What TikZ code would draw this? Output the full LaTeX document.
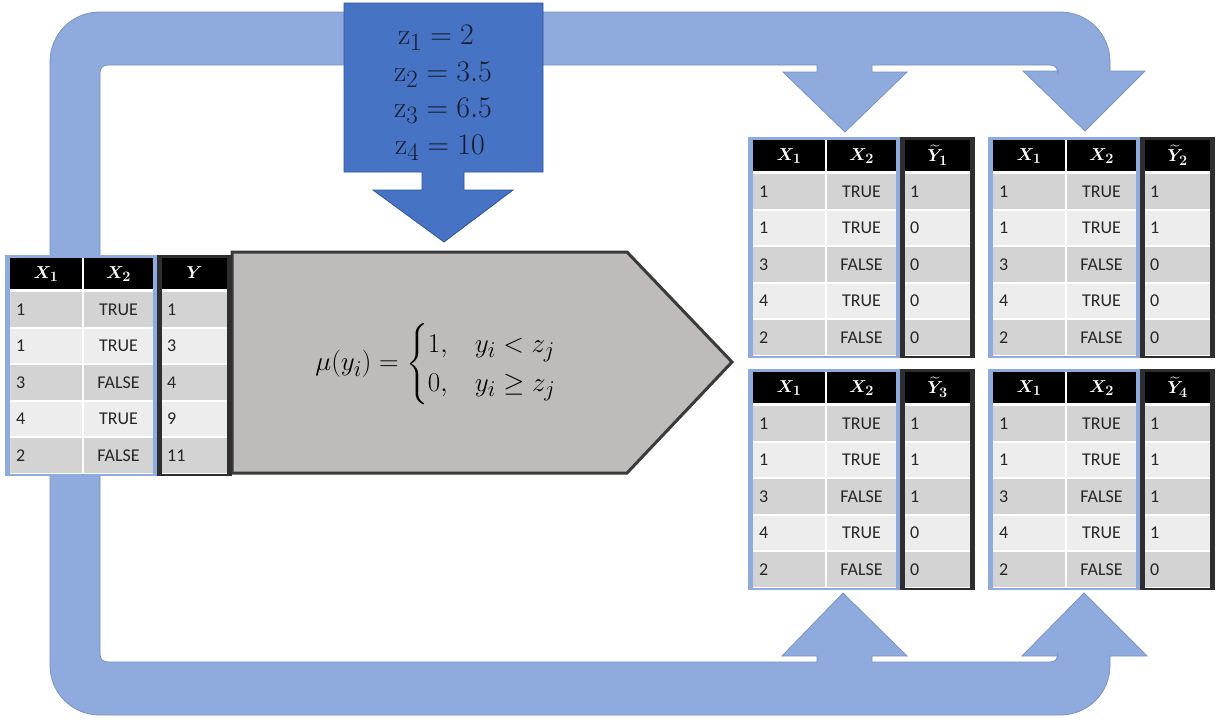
\documentclass[tikz,border=0pt]{standalone}
\usepackage{amsmath,bm}
\usepackage{fontspec}
\newfontfamily\cellfont{Carlito}
\definecolor{band}{HTML}{8FAADC}
\definecolor{bandline}{HTML}{7892C6}
\definecolor{zbox}{HTML}{4773C5}
\definecolor{zboxline}{HTML}{2F5597}
\definecolor{ztext}{HTML}{141B2E}
\definecolor{arrowgray}{HTML}{BFBBBB}
\definecolor{arrowline}{HTML}{3A3A3A}
\definecolor{darkframe}{HTML}{2E2E2E}
\definecolor{rowdark}{HTML}{D3D3D3}
\definecolor{rowlight}{HTML}{EDEDED}
\definecolor{tframe}{HTML}{8EABDD}
\tikzset{
  hdr/.style={text=white,inner sep=0pt,font=\fontsize{19}{22}\selectfont},
  cell/.style={inner sep=0pt,text=black!85,font=\cellfont\fontsize{18}{21}\selectfont,text height=12pt,text depth=0pt},
  zline/.style={inner sep=0pt,text=ztext,font=\fontsize{24.88}{30}\selectfont},
}
\newcommand\zeq[1]{\scalebox{1.2}{$#1$}}
\newcommand\datatable[9]{%
 \begin{scope}[shift={(#2,#3)}]
  \fill[tframe] (0,0) rectangle (152,221);
  \fill[darkframe] (152,0) rectangle (227,221);
  \fill[white] (5,3) rectangle (148,218.5);
  \fill[white] (157,3) rectangle (222,218.5);
  \fill[black] (5,3) rectangle (77,34);
  \fill[black] (79,3) rectangle (148,34);
  \fill[black] (157,3) rectangle (222,34);
  \foreach \t/\c in {37/rowdark,73.5/rowlight,110/rowdark,146.5/rowlight,183/rowdark}{
    \fill[\c] (5,\t) rectangle (77,\t+34.5);
    \fill[\c] (79,\t) rectangle (148,\t+34.5);
    \fill[\c] (157,\t) rectangle (222,\t+34.5);
  }
  \node[hdr] (#1-h1) at (41,19) {$\bm{X_1}$};
  \node[hdr] (#1-h2) at (113.5,19) {$\bm{X_2}$};
  \node[hdr] (#1-hy) at (189.5,18) {#4};
  \foreach \k/\a/\b/\c in {1/1/TRUE/#5,2/1/TRUE/#6,3/3/FALSE/#7,4/4/TRUE/#8,5/2/FALSE/#9}{
    \pgfmathsetmacro\yc{37+36.5*(\k-1)+17.25}
    \node[cell,anchor=west] (#1-a\k) at (11,\yc) {\a};
    \node[cell] (#1-b\k) at (113.5,\yc) {\b};
    \node[cell,anchor=west] (#1-c\k) at (162,\yc) {\c};
  }
 \end{scope}}
\begin{document}
\begin{tikzpicture}[x=1pt,y=-1pt]
\useasboundingbox (0,0) rectangle (1221,720);
\fill[white] (0,0) rectangle (1221,720);
% feedback loop band with four arrow heads
\filldraw[fill=band,draw=bandline,line width=0.8pt]
  (1058,71) -- (1023,71) -- (1085,131) -- (1145,71) -- (1110,71) -- (1110,62)
  .. controls (1110,34) and (1088,12) .. (1060,12) -- (100,12)
  .. controls (72,12) and (50,34) .. (50,62) -- (50,665)
  .. controls (50,693) and (72,715) .. (100,715) -- (1060,715)
  .. controls (1088,715) and (1110,693) .. (1110,665) -- (1110,656)
  -- (1147,656) -- (1084,593) -- (1022,656) -- (1058,656) -- (1058,652)
  .. controls (1058,658) and (1056,662) .. (1050,662)
  -- (872,662) -- (872,656) -- (907,656) -- (843,593) -- (782,656) -- (817,656) -- (817,662)
  -- (108,662) .. controls (103,662) and (100,659) .. (100,654)
  -- (100,73) .. controls (100,68) and (103,65) .. (108,65)
  -- (817,65) -- (817,72) -- (783,72) -- (845,132) -- (907,72) -- (872,72) -- (872,65)
  -- (1050,65) .. controls (1056,65) and (1058,69) .. (1058,75) -- cycle;
% threshold box with down arrow
\filldraw[fill=zbox,draw=zboxline,line width=0.8pt]
  (344,3) -- (543,3) -- (543,172) -- (464,172) -- (464,190) -- (513,190) -- (444,242)
  -- (373,190) -- (422,190) -- (422,172) -- (344,172) -- cycle;
\node[zline] (z1) at (436,38) {\zeq{\mathrm{z}_1 = 2}};
\node[zline] (z2) at (443,75) {\zeq{\mathrm{z}_2 = 3.5}};
\node[zline] (z3) at (443,111) {\zeq{\mathrm{z}_3 = 6.5}};
\node[zline] (z4) at (440,148) {\zeq{\mathrm{z}_4 = 10}};
% transformation arrow
\filldraw[fill=arrowgray,draw=arrowline,line width=3pt]
  (232,252) -- (627,252) -- (732,362) -- (627,473) -- (232,473) -- cycle;
\node[inner sep=0pt,font=\fontsize{24.88}{30}\selectfont] (mu) at (436,364)
  {\scalebox{1.09}{$\mu(y_i)=\begin{cases}1, & y_i< z_j\\ 0, & y_i\geq z_j\end{cases}$}};
% tables
\datatable{t0}{5}{255}{$\bm{Y}$}{1}{3}{4}{9}{11}
\datatable{t1}{748}{137}{$\widetilde{\bm{Y}}_{\bm{1}}$}{1}{0}{0}{0}{0}
\datatable{t2}{988}{137}{$\widetilde{\bm{Y}}_{\bm{2}}$}{1}{1}{0}{0}{0}
\datatable{t3}{748}{369}{$\widetilde{\bm{Y}}_{\bm{3}}$}{1}{1}{1}{0}{0}
\datatable{t4}{988}{369}{$\widetilde{\bm{Y}}_{\bm{4}}$}{1}{1}{1}{1}{0}
\end{tikzpicture}
\end{document}
